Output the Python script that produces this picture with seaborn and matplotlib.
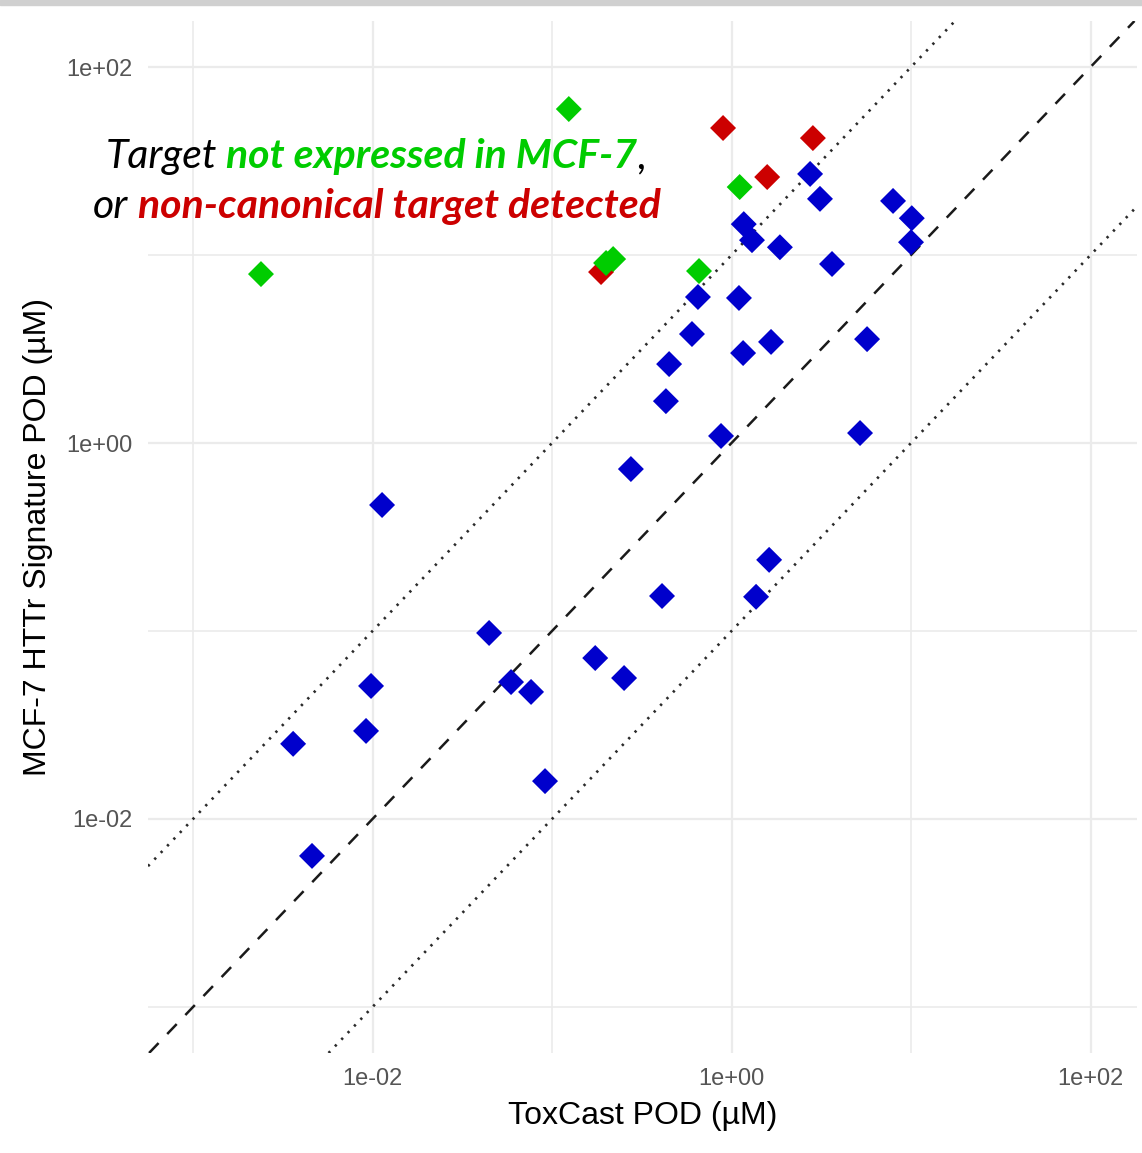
import numpy as np
import pandas as pd
import matplotlib
matplotlib.use("Agg")
import matplotlib.pyplot as plt
import matplotlib.ticker as mticker
from matplotlib.patches import Rectangle
import seaborn as sns

# Данные (µM), считанные с графика
# синие — обычные химикаты
tox_blue = [2.74, 3.11, 7.94, 10.1, 10.0, 1.17, 1.30, 1.86, 3.63, 0.65, 1.10, 0.602,
            0.449, 1.16, 1.66, 5.69, 0.431, 0.874, 5.20, 0.275, 0.0113, 1.62, 0.410,
            1.37, 0.0446, 0.174, 0.252, 0.00981, 0.0591, 0.0764, 0.0092, 0.00361,
            0.0914, 0.0046]
httr_blue = [27.0, 19.9, 19.4, 15.7, 11.7, 14.6, 12.0, 11.0, 8.96, 5.98, 5.91, 3.80,
             2.63, 3.01, 3.45, 3.57, 1.67, 1.09, 1.13, 0.727, 0.468, 0.239, 0.1535,
             0.152, 0.0976, 0.0718, 0.0562, 0.0510, 0.0535, 0.0474, 0.0294, 0.0251,
             0.0159, 0.00636]
# красные — неканоническая мишень
tox_red = [0.897, 2.84, 1.58, 0.1875]
httr_red = [47.4, 41.9, 26.0, 8.12]
# зелёные — мишень не экспрессируется в MCF-7
tox_green = [0.124, 0.00239, 0.200, 0.219, 0.659, 1.11]
httr_green = [59.8, 7.92, 9.07, 9.52, 8.22, 23.0]

groups = ["normal", "noncanonical", "not_expressed"]
colors = {"normal": "#0000CC", "noncanonical": "#CC0000", "not_expressed": "#00CC00"}

df = pd.concat([
    pd.DataFrame({"tox": tox_blue, "httr": httr_blue, "group": "normal"}),
    pd.DataFrame({"tox": tox_red, "httr": httr_red, "group": "noncanonical"}),
    pd.DataFrame({"tox": tox_green, "httr": httr_green, "group": "not_expressed"}),
], ignore_index=True)

sns.set_theme(style="white")
plt.rcParams["font.family"] = ["Liberation Sans", "DejaVu Sans"]

W, H = 1142, 1153
fig = plt.figure(figsize=(W / 100, H / 100), dpi=100)
ax = fig.add_axes([148 / W, 1 - 1053 / H, (1137 - 148) / W, (1053 - 21) / H])

sns.scatterplot(data=df, x="tox", y="httr", hue="group", hue_order=groups,
                palette=colors, marker="D", s=175, linewidth=0, legend=False,
                ax=ax, zorder=3)

ax.set_xscale("log")
ax.set_yscale("log")
ax.set_xlim(10 ** -3.251, 10 ** 2.259)
ax.set_ylim(10 ** -3.245, 10 ** 2.245)

# линии 1:1 и ±1 порядок
ax.axline((1, 1), (10, 10), color="#1a1a1a", lw=1.8, ls=(0, (5.5, 5)), zorder=2)
ax.axline((1, 10), (10, 100), color="#2a2a2a", lw=1.9, ls=(0, (0.9, 2.6)), zorder=2)
ax.axline((1, 0.1), (10, 1), color="#2a2a2a", lw=1.9, ls=(0, (0.9, 2.6)), zorder=2)

major = [1e-2, 1e0, 1e2]
minor = [1e-3, 1e-1, 1e1]
for axis in (ax.xaxis, ax.yaxis):
    axis.set_major_locator(mticker.FixedLocator(major))
    axis.set_minor_locator(mticker.FixedLocator(minor))
    axis.set_major_formatter(mticker.FuncFormatter(lambda v, p: f"{v:.0e}"))
    axis.set_minor_formatter(mticker.NullFormatter())
ax.grid(which="major", color="#EBEBEB", lw=1.6)
ax.grid(which="minor", color="#EBEBEB", lw=1.2)
ax.set_axisbelow(True)
for sp in ax.spines.values():
    sp.set_visible(False)
ax.tick_params(which="both", length=0, labelsize=17, labelcolor="#555555", pad=11)

ax.set_xlabel("ToxCast POD (µM)", fontsize=23, color="black", labelpad=8)
ax.set_ylabel("MCF-7 HTTr Signature POD (µM)", fontsize=23, color="black", labelpad=10)

# серая полоса сверху (со слайда)
fig.patches.append(Rectangle((0, 1 - 5 / H), 1, 5 / H, transform=fig.transFigure,
                             color="#D0D0D0", zorder=0))

# цветная подпись из нескольких частей
renderer = fig.canvas.get_renderer()
tfont = dict(family=["Lato", "DejaVu Sans"], style="italic", fontsize=29.5)


def colored_line(xc, yb, parts):
    probe = fig.text(0, 0, "a a", **tfont)
    probe2 = fig.text(0, 0, "aa", **tfont)
    sp = probe.get_window_extent(renderer).width - probe2.get_window_extent(renderer).width
    probe.remove()
    probe2.remove()
    texts, widths = [], []
    for s, c, w, gap in parts:
        t = fig.text(0, 1 - yb / H, s, color=c, fontweight=w, va="baseline", **tfont)
        texts.append((t, gap))
        widths.append(t.get_window_extent(renderer).width + (sp if gap else 0))
    x = xc - sum(widths) / 2
    for (t, gap), wd in zip(texts, widths):
        t.set_x(x / W)
        x += wd


colored_line(376, 168, [("Target", "black", "normal", True),
                        ("not expressed in MCF-7", "#00CC00", "bold", False),
                        (",", "black", "normal", False)])
colored_line(377, 218, [("or", "black", "normal", True),
                        ("non-canonical target detected", "#CC0000", "bold", False)])

fig.savefig("out.png", dpi=100, facecolor="white")
